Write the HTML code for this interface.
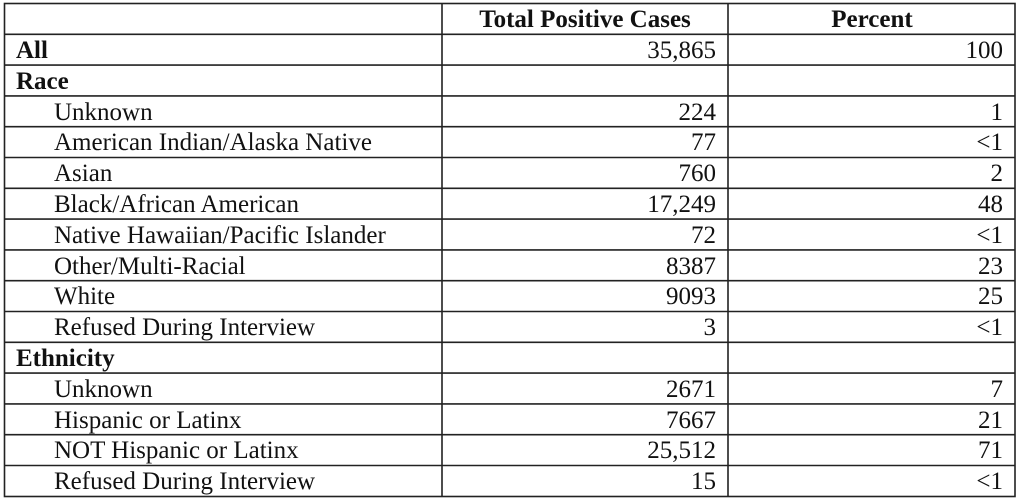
<!DOCTYPE html>
<html><head><meta charset="utf-8"><style>
html,body{margin:0;padding:0;background:#fff;}
svg{display:block;}
text{font-family:"Liberation Serif",serif;font-size:25px;fill:#111;}
.b{font-weight:bold;}
</style></head><body>
<svg width="1024" height="501" viewBox="0 0 1024 501">
<g stroke="#222" stroke-width="1.6" fill="none">
<rect x="4.5" y="3.5" width="1010.5" height="493"/>
<line x1="442" y1="3.5" x2="442" y2="496.5"/>
<line x1="728" y1="3.5" x2="728" y2="496.5"/>
<line x1="4.5" y1="34.3" x2="1015" y2="34.3"/>
<line x1="4.5" y1="65.1" x2="1015" y2="65.1"/>
<line x1="4.5" y1="95.9" x2="1015" y2="95.9"/>
<line x1="4.5" y1="126.7" x2="1015" y2="126.7"/>
<line x1="4.5" y1="157.5" x2="1015" y2="157.5"/>
<line x1="4.5" y1="188.3" x2="1015" y2="188.3"/>
<line x1="4.5" y1="219.1" x2="1015" y2="219.1"/>
<line x1="4.5" y1="249.9" x2="1015" y2="249.9"/>
<line x1="4.5" y1="280.7" x2="1015" y2="280.7"/>
<line x1="4.5" y1="311.5" x2="1015" y2="311.5"/>
<line x1="4.5" y1="342.3" x2="1015" y2="342.3"/>
<line x1="4.5" y1="373.1" x2="1015" y2="373.1"/>
<line x1="4.5" y1="403.9" x2="1015" y2="403.9"/>
<line x1="4.5" y1="434.7" x2="1015" y2="434.7"/>
<line x1="4.5" y1="465.5" x2="1015" y2="465.5"/>
</g>
<text class="b" x="585" y="27" text-anchor="middle">Total Positive Cases</text>
<text class="b" x="872" y="27" text-anchor="middle">Percent</text>
<g>
<text class="b" x="16" y="58">All</text>
<text class="b" x="16" y="89">Race</text>
<text x="54" y="120">Unknown</text>
<text x="54" y="150">American Indian/Alaska Native</text>
<text x="54" y="181">Asian</text>
<text x="54" y="212">Black/African American</text>
<text x="54" y="243">Native Hawaiian/Pacific Islander</text>
<text x="54" y="274">Other/Multi-Racial</text>
<text x="54" y="304">White</text>
<text x="54" y="335">Refused During Interview</text>
<text class="b" x="16" y="366">Ethnicity</text>
<text x="54" y="397">Unknown</text>
<text x="54" y="428">Hispanic or Latinx</text>
<text x="54" y="458">NOT Hispanic or Latinx</text>
<text x="54" y="489">Refused During Interview</text>
</g>
<g text-anchor="end">
<text x="716" y="58">35,865</text><text x="1003" y="58">100</text>
<text x="716" y="120">224</text><text x="1003" y="120">1</text>
<text x="716" y="150">77</text><text x="1003" y="150">&lt;1</text>
<text x="716" y="181">760</text><text x="1003" y="181">2</text>
<text x="716" y="212">17,249</text><text x="1003" y="212">48</text>
<text x="716" y="243">72</text><text x="1003" y="243">&lt;1</text>
<text x="716" y="274">8387</text><text x="1003" y="274">23</text>
<text x="716" y="304">9093</text><text x="1003" y="304">25</text>
<text x="716" y="335">3</text><text x="1003" y="335">&lt;1</text>
<text x="716" y="397">2671</text><text x="1003" y="397">7</text>
<text x="716" y="428">7667</text><text x="1003" y="428">21</text>
<text x="716" y="458">25,512</text><text x="1003" y="458">71</text>
<text x="716" y="489">15</text><text x="1003" y="489">&lt;1</text>
</g>
</svg>
</body></html>
